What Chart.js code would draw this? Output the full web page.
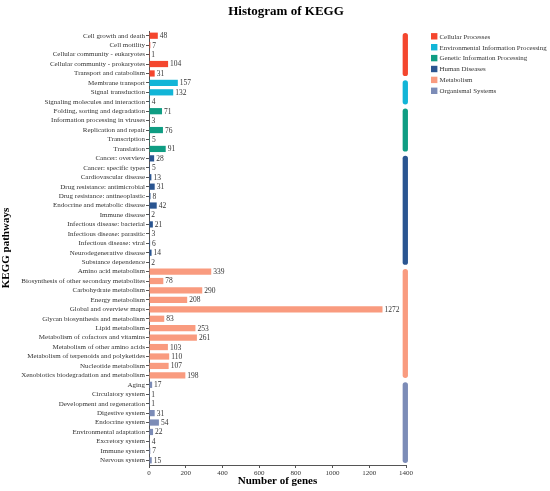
<html>
<head>
<script src="https://cdn.jsdelivr.net/npm/chart.js@4.4.0/dist/chart.umd.min.js"></script>
<style>
  body { margin: 0; background: #fff; }
  #wrap { width: 550px; height: 491px; }
</style>
</head>
<body>
<div id="wrap"><canvas id="keggChart"></canvas></div>
<script>
  // KEGG level-2 pathways, top to bottom
  var pathways = [
    "Cell growth and death", "Cell motility", "Cellular community - eukaryotes",
    "Cellular community - prokaryotes", "Transport and catabolism",
    "Membrane transport", "Signal transduction", "Signaling molecules and interaction",
    "Folding, sorting and degradation", "Information processing in viruses",
    "Replication and repair", "Transcription", "Translation",
    "Cancer: overview", "Cancer: specific types", "Cardiovascular disease",
    "Drug resistance: antimicrobial", "Drug resistance: antineoplastic",
    "Endocrine and metabolic disease", "Immune disease", "Infectious disease: bacterial",
    "Infectious disease: parasitic", "Infectious disease: viral",
    "Neurodegenerative disease", "Substance dependence",
    "Amino acid metabolism", "Biosynthesis of other secondary metabolites",
    "Carbohydrate metabolism", "Energy metabolism", "Global and overview maps",
    "Glycan biosynthesis and metabolism", "Lipid metabolism",
    "Metabolism of cofactors and vitamins", "Metabolism of other amino acids",
    "Metabolism of terpenoids and polyketides", "Nucleotide metabolism",
    "Xenobiotics biodegradation and metabolism",
    "Aging", "Circulatory system", "Development and regeneration", "Digestive system",
    "Endocrine system", "Environmental adaptation", "Excretory system",
    "Immune system", "Nervous system"
  ];

  var genes = [
    48, 7, 1, 104, 31,
    157, 132, 4,
    71, 3, 76, 5, 91,
    28, 5, 13, 31, 8, 42, 2, 21, 3, 6, 14, 2,
    339, 78, 290, 208, 1272, 83, 253, 261, 103, 110, 107, 198,
    17, 1, 1, 31, 54, 22, 4, 7, 15
  ];

  // index into groupNames for each pathway
  var groupOf = [
    0, 0, 0, 0, 0,
    1, 1, 1,
    2, 2, 2, 2, 2,
    3, 3, 3, 3, 3, 3, 3, 3, 3, 3, 3, 3,
    4, 4, 4, 4, 4, 4, 4, 4, 4, 4, 4, 4,
    5, 5, 5, 5, 5, 5, 5, 5, 5
  ];

  var groupNames = [
    "Cellular Processes", "Environmental Information Processing",
    "Genetic Information Processing", "Human Diseases",
    "Metabolism", "Organismal Systems"
  ];
  var groupColors = ["#F4462E", "#12B5D7", "#0F9D83", "#2A5591", "#F99B7F", "#7C8CB7"];

  var xMax = 1400;
  var xStep = 200;

  var serif = '"Liberation Serif", "Times New Roman", serif';
  Chart.defaults.font.family = serif;
  Chart.defaults.color = "#333";

  // value labels, group strips, legend and title
  var extras = {
    id: "extras",
    afterDatasetsDraw: function (chart) {
      var ctx = chart.ctx;
      var meta = chart.getDatasetMeta(0);
      var y = chart.scales.y, x = chart.scales.x;
      ctx.save();

      ctx.font = "7.5px " + serif;
      ctx.fillStyle = "#333";
      ctx.textAlign = "left";
      ctx.textBaseline = "middle";
      meta.data.forEach(function (bar, i) {
        ctx.fillText(genes[i], bar.x + 2, bar.y + 0.5);
      });

      var sx = x.getPixelForValue(xMax) - 0.7;
      ctx.lineWidth = 5.3;
      ctx.lineCap = "round";
      groupNames.forEach(function (g, k) {
        var first = groupOf.indexOf(k), last = groupOf.lastIndexOf(k);
        ctx.strokeStyle = groupColors[k];
        ctx.beginPath();
        ctx.moveTo(sx, y.getPixelForValue(first));
        ctx.lineTo(sx, y.getPixelForValue(last));
        ctx.stroke();
      });

      ctx.font = "6.9px " + serif;
      groupNames.forEach(function (g, k) {
        var cy = 36.3 + k * 10.9;
        ctx.fillStyle = groupColors[k];
        ctx.fillRect(431, cy - 3.2, 6.4, 6.4);
        ctx.fillStyle = "#333";
        ctx.fillText(g, 439.5, cy + 0.5);
      });

      ctx.font = "bold 13px " + serif;
      ctx.fillStyle = "#000";
      ctx.textAlign = "center";
      ctx.fillText("Histogram of KEGG", 286, 12);
      ctx.restore();
    }
  };

  var ctx = document.getElementById("keggChart").getContext("2d");
  var chart = new Chart(ctx, {
    type: "bar",
    data: {
      labels: pathways,
      datasets: [{
        data: genes,
        backgroundColor: groupOf.map(function (g) { return groupColors[g]; }),
        barPercentage: 0.66,
        categoryPercentage: 1
      }]
    },
    options: {
      indexAxis: "y",
      responsive: true,
      maintainAspectRatio: false,
      animation: false,
      layout: { padding: { top: 31, right: 144, left: 0, bottom: 0 } },
      plugins: {
        legend: { display: false },
        tooltip: { enabled: false }
      },
      scales: {
        x: {
          min: 0,
          max: xMax,
          ticks: {
            stepSize: xStep, font: { size: 7 }, padding: 1, color: "#333",
            callback: function (v) { return String(v); }
          },
          grid: { drawOnChartArea: false, tickLength: 3, color: "#555" },
          border: { color: "#555" },
          title: {
            display: true, text: "Number of genes", color: "#000",
            font: { size: 11, weight: "bold" }, padding: { top: 0, bottom: 3 }
          },
          afterFit: function (s) { s.height = 26; }
        },
        y: {
          ticks: { autoSkip: false, font: { size: 7 }, padding: 1, color: "#333" },
          grid: { drawOnChartArea: false, offset: false, tickLength: 3, color: "#555" },
          border: { color: "#555" },
          title: {
            display: true, text: "KEGG pathways", color: "#000",
            font: { size: 11, weight: "bold" }, padding: { top: 0, bottom: 1 }
          },
          afterFit: function (s) { s.width = 149; }
        }
      }
    },
    plugins: [extras]
  });
</script>
</body>
</html>
